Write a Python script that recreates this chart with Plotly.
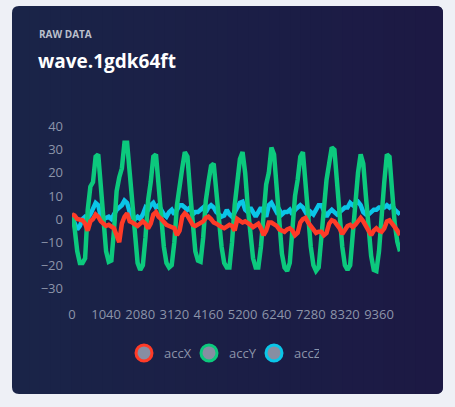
import plotly.graph_objects as go

W, H = 455, 407

# ---- data ----
interval_ms = 80
series_names = ["accX", "accY", "accZ"]
acc_x = [2, 1.5, 0, -0.5, -0.5, -2, -5, -1, 0, 2,
         1, -1, -2, -3, -2.5, -3, -4, -7, -10, -2,
         1, 2.5, -1, -1.5, -2, -3, -2, -1, -2, -4,
         -2, 2, 3, 1, 0, -1.5, -2.5, -3, -3.5, -4,
         -7, -5, 1, 2.5, 1.5, -1, -2.5, -3, -2.5, -1.5,
         -1, 0.5, 1, 0, -1.5, -2, -3, -3.5, -4, -3.5,
         -2.5, -3, -5, 0, -1, -1.5, -1, -1.5, -2.5, -3.5,
         -2.5, -2, -4, -7, -5, -1.5, -1.5, -2, -3, -4.5,
         -5, -5.5, -4.5, -4, -5, -7, -6, -1.5, 0, 0.5,
         -1.5, -3, -4, -6, -5.5, -5.5, -7, -6, -2, -0.5,
         -1, -2.5, -4, -6.5, -5, -3, -2.5, -3.5, -2.5, -1,
         0.5, -1, -3, -5.5, -7, -5, -4, -5, -5.5, -4,
         -1, -0.5, -2, -3, -5, -7]
acc_y = [2.5, -4, -14, -19, -19, -17, 4, 14, 16, 27,
         28, 12, -3, -14, -18.5, -18, -5, 12, 18, 22,
         33, 33, 20, 5, -10, -19, -22, -20, -8, 8,
         16, 27, 28, 14, 0, -12, -19, -21, -20, -10,
         6, 15, 22, 29, 27, 12, -2, -14, -18, -18.5,
         -8, 8, 16, 23, 24, 12, -2, -12, -19, -21,
         -21, -10, 6, 16, 26, 29, 20, 5, -8, -17,
         -21, -21, -12, 4, 15, 20, 31, 28, 12, -3,
         -15, -21, -22.5, -19, -6, 10, 17, 27, 29, 15,
         0, -12, -20, -22.5, -21, -8, 8, 17, 24, 31,
         30, 15, 0, -12, -20, -22, -20, -6, 10, 20,
         28, 24, 10, -4, -16, -22, -22.5, -14, 3, 16,
         28, 27, 12, -2, -10, -14]
acc_z = [1, -2, -4.5, -3, 0, 1, 0.5, 2, 5, 7,
         6, 1, 0, 0.5, 1, 0, 2, 4, 5, 6,
         8, 7, 3, 1, 0, 1, 0, 2, 5, 4,
         6, 7, 5, 6, 4, 2, 1, 3, 4, 2,
         4, 6, 6, 5, 4, 5, 2, 3, 3, 4,
         5, 3, 5, 6, 5, 3, 2, 1, 1.5, 4,
         2, 1, 3, 5, 7, 7.5, 4, 3, 5, 3,
         1, 3, 5, 3, 1, 6, 7, 5, 3, 4,
         2, 3, 3, 4, 2, 4, 5, 6, 5, 3,
         1, 3, 2, 4, 6, 6, 3, 1, 3, 4,
         3, 2, 3, 4, 5, 5, 7, 6, 7, 7.5,
         6, 3, 2, 2, 3, 4, 4, 5, 5, 5,
         6, 5, 6, 4, 3, 2]
time_ms = [i * interval_ms for i in range(len(acc_y))]

x_tick_vals = [0, 1040, 2080, 3120, 4160, 5200, 6240, 7280, 8320, 9360]
y_tick_vals = [-30, -20, -10, 0, 10, 20, 30, 40]

colors = {"accX": "#ff3b27", "accY": "#0cc97d", "accZ": "#0ac6e8"}
values = {"accX": acc_x, "accY": acc_y, "accZ": acc_z}

def px(x):
    return x / W

def py(y):
    return 1 - y / H

def rrect(x0, y0, x1, y1, r):
    pts = [
        ("M", [(x0 + r, y0)]), ("L", [(x1 - r, y0)]), ("Q", [(x1, y0), (x1, y0 + r)]),
        ("L", [(x1, y1 - r)]), ("Q", [(x1, y1), (x1 - r, y1)]),
        ("L", [(x0 + r, y1)]), ("Q", [(x0, y1), (x0, y1 - r)]),
        ("L", [(x0, y0 + r)]), ("Q", [(x0, y0), (x0 + r, y0)]),
    ]
    s = ""
    for cmd, ps in pts:
        s += cmd + " " + " ".join(f"{px(a):.5f},{py(b):.5f}" for a, b in ps) + " "
    return s + "Z"

fig = go.Figure()

# lines: draw accZ first, accX last (on top)
for name in ["accZ", "accY", "accX"]:
    fig.add_trace(go.Scatter(
        x=time_ms, y=values[name], mode="lines", name=name,
        line=dict(color=colors[name], width=4.5, shape="linear"),
        showlegend=False, hoverinfo="skip"))

# legend entries
for name in series_names:
    fig.add_trace(go.Scatter(
        x=[-5000], y=[0], mode="markers", name=name,
        marker=dict(size=16, color="#878ea2", line=dict(color=colors[name], width=3)),
        showlegend=True, hoverinfo="skip"))

# card background with horizontal gradient
shapes = []
left_c = (26, 36, 72)
right_c = (28, 25, 68)
shapes.append(dict(type="path", path=rrect(12, 6, 443, 394, 7), xref="paper", yref="paper",
                   fillcolor="rgb(%d,%d,%d)" % left_c, line=dict(width=0), layer="below"))
shapes.append(dict(type="path", path=rrect(420, 6, 443, 394, 7), xref="paper", yref="paper",
                   fillcolor="rgb(%d,%d,%d)" % right_c, line=dict(width=0), layer="below"))
N = 40
xa, xb = 19, 436
for i in range(N):
    f = (i + 0.5) / N
    c = tuple(round(left_c[k] + (right_c[k] - left_c[k]) * f) for k in range(3))
    sx0 = xa + (xb - xa) * i / N
    sx1 = xa + (xb - xa) * (i + 1) / N + 1
    shapes.append(dict(type="rect", xref="paper", yref="paper",
                       x0=px(sx0), x1=px(sx1), y0=py(394), y1=py(6),
                       fillcolor="rgb(%d,%d,%d)" % c, line=dict(width=0), layer="below"))

fig.update_layout(
    width=W, height=H,
    margin=dict(l=0, r=0, t=0, b=0, pad=0, autoexpand=False),
    paper_bgcolor="#eef0f6",
    plot_bgcolor="rgba(0,0,0,0)",
    shapes=shapes,
    font=dict(family="Open Sans", color="#8c94a9", size=13),
    xaxis=dict(domain=[px(72), px(400)], range=[0, 10000], tickvals=x_tick_vals,
               showgrid=False, zeroline=False, showline=False, ticks="", automargin=False,
               ticklabelstandoff=17, tickfont=dict(size=13, color="#8c94a9")),
    yaxis=dict(domain=[py(288.3), py(126.7)], range=[-30, 40], tickvals=y_tick_vals,
               showgrid=False, zeroline=False, showline=False, ticks="", automargin=False,
               ticklabelstandoff=8, tickfont=dict(size=13, color="#8c94a9")),
    legend=dict(orientation="h", x=px(124), y=py(353), xanchor="left", yanchor="middle",
                bgcolor="rgba(0,0,0,0)", font=dict(size=13, color="#8c94a9"),
                itemsizing="trace", entrywidth=20, entrywidthmode="pixels"),
    annotations=[
        dict(text="<b>RAW DATA</b>", x=px(37), y=py(34), xref="paper", yref="paper",
             xanchor="left", yanchor="middle", showarrow=False,
             font=dict(family="Open Sans", size=10, color="#b9bfcc")),
        dict(text="<b>wave.1gdk64ft</b>", x=px(36), y=py(61), xref="paper", yref="paper",
             xanchor="left", yanchor="middle", showarrow=False,
             font=dict(family="Open Sans", size=19, color="#ffffff")),
    ],
)

fig.write_html("out.html")
